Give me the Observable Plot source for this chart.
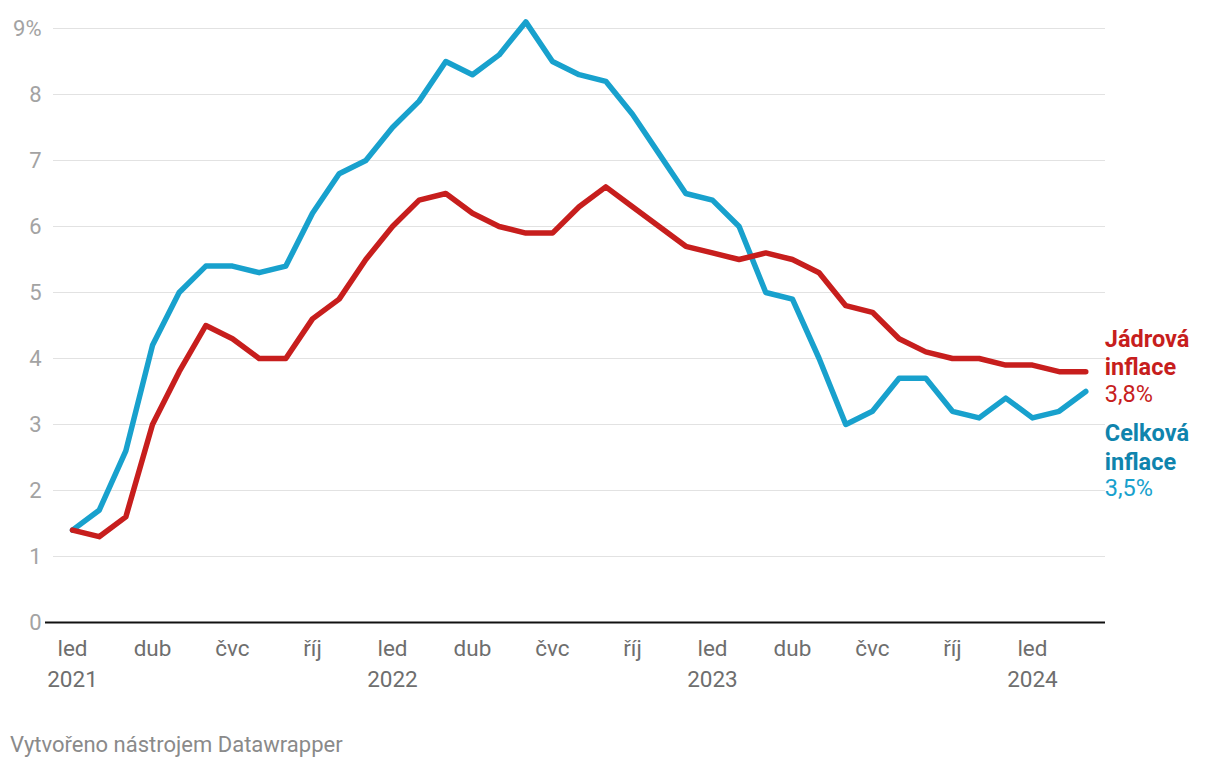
<!DOCTYPE html>
<html><head><meta charset="utf-8">
<script src="https://cdn.jsdelivr.net/npm/d3@7"></script>
<script src="https://cdn.jsdelivr.net/npm/@observablehq/plot@0.6"></script>
<style>
body{margin:0;background:#fff;font-family:Roboto,sans-serif;}
#chart{position:absolute;left:0;top:0;}
#footer{position:absolute;left:10px;top:734px;font-size:22px;line-height:22px;color:#8a8a8a;font-family:Roboto,sans-serif;}
</style></head><body>
<div id="chart"></div>
<div id="footer">Vytvořeno nástrojem Datawrapper</div>
<script>
// months Jan 2021 .. Mar 2024
const months = ["2021-01","2021-02","2021-03","2021-04","2021-05","2021-06","2021-07","2021-08","2021-09","2021-10","2021-11","2021-12",
"2022-01","2022-02","2022-03","2022-04","2022-05","2022-06","2022-07","2022-08","2022-09","2022-10","2022-11","2022-12",
"2023-01","2023-02","2023-03","2023-04","2023-05","2023-06","2023-07","2023-08","2023-09","2023-10","2023-11","2023-12",
"2024-01","2024-02","2024-03"];
const celkova = [1.4,1.7,2.6,4.2,5.0,5.4,5.4,5.3,5.4,6.2,6.8,7.0,
7.5,7.9,8.5,8.3,8.6,9.1,8.5,8.3,8.2,7.7,7.1,6.5,
6.4,6.0,5.0,4.9,4.0,3.0,3.2,3.7,3.7,3.2,3.1,3.4,
3.1,3.2,3.5];
const jadrova = [1.4,1.3,1.6,3.0,3.8,4.5,4.3,4.0,4.0,4.6,4.9,5.5,
6.0,6.4,6.5,6.2,6.0,5.9,5.9,6.3,6.6,6.3,6.0,5.7,
5.6,5.5,5.6,5.5,5.3,4.8,4.7,4.3,4.1,4.0,4.0,3.9,
3.9,3.8,3.8];
const xTickMonths = ["2021-01","2021-04","2021-07","2021-10","2022-01","2022-04","2022-07","2022-10","2023-01","2023-04","2023-07","2023-10","2024-01"];
const xTickLabels = ["led\n2021","dub","čvc","říj","led\n2022","dub","čvc","říj","led\n2023","dub","čvc","říj","led\n2024"];
const yTicks = [0,1,2,3,4,5,6,7,8,9];
const yTickLabels = ["0","1","2","3","4","5","6","7","8","9%"];
const seriesNames = ["Jádrová\ninflace","Celková\ninflace"];
const seriesValueLabels = ["3,8%","3,5%"];

const data = months.map((m,i)=>({i, m, celk: celkova[i], jadr: jadrova[i]}));
const idx = m => months.indexOf(m);
const last = data.length - 1;
const xDomain = [-0.7125, 38.74];

const red = "#c71e1d", blue = "#18a1cd", blueDark = "#0f84ad";

const chart = Plot.plot({
  width: 1220,
  height: 715,
  marginLeft: 53,
  marginRight: 115,
  marginTop: 28,
  marginBottom: 93,
  style: {fontFamily: "Roboto, sans-serif", background: "#fff", overflow: "visible"},
  x: {type: "linear", domain: xDomain},
  y: {domain: [0, 9]},
  marks: [
    Plot.gridY(yTicks.slice(1), {stroke: "#e2e2e2", strokeOpacity: 1, strokeWidth: 1.2}),
    Plot.axisY({ticks: yTicks, tickSize: 0, tickPadding: 12, fontSize: 22, color: "#a3a3a3",
      tickFormat: d => yTickLabels[yTicks.indexOf(d)], label: null}),
    Plot.axisX({ticks: xTickMonths.map(idx), tickSize: 0, tickPadding: 11, fontSize: 22.5, color: "#6e6e6e",
      lineHeight: 1.38, tickFormat: d => xTickLabels[xTickMonths.map(idx).indexOf(d)], label: null}),
    Plot.ruleY([0], {x1: xDomain[0] - 0.3, x2: xDomain[1], stroke: "#111", strokeWidth: 2}),
    Plot.lineY(data, {x: "i", y: "celk", stroke: blue, strokeWidth: 5.5, strokeLinejoin: "round", strokeLinecap: "round"}),
    Plot.lineY(data, {x: "i", y: "jadr", stroke: red, strokeWidth: 5.5, strokeLinejoin: "round", strokeLinecap: "round"}),
    // end labels
    Plot.text([data[last]], {x: "i", y: "jadr", text: () => seriesNames[0], textAnchor: "start", lineAnchor: "middle",
      dx: 19, dy: -20, fontSize: 23.5, fontWeight: "bold", fill: red, lineHeight: 1.23}),
    Plot.text([data[last]], {x: "i", y: "jadr", text: () => seriesValueLabels[0], textAnchor: "start", lineAnchor: "middle",
      dx: 19, dy: 23, fontSize: 23.5, fill: red}),
    Plot.text([data[last]], {x: "i", y: "celk", text: () => seriesNames[1], textAnchor: "start", lineAnchor: "middle",
      dx: 19, dy: 55, fontSize: 23.5, fontWeight: "bold", fill: blueDark, lineHeight: 1.23}),
    Plot.text([data[last]], {x: "i", y: "celk", text: () => seriesValueLabels[1], textAnchor: "start", lineAnchor: "middle",
      dx: 19, dy: 97, fontSize: 23.5, fill: blue})
  ]
});
document.getElementById("chart").appendChild(chart);
</script>
</body></html>
